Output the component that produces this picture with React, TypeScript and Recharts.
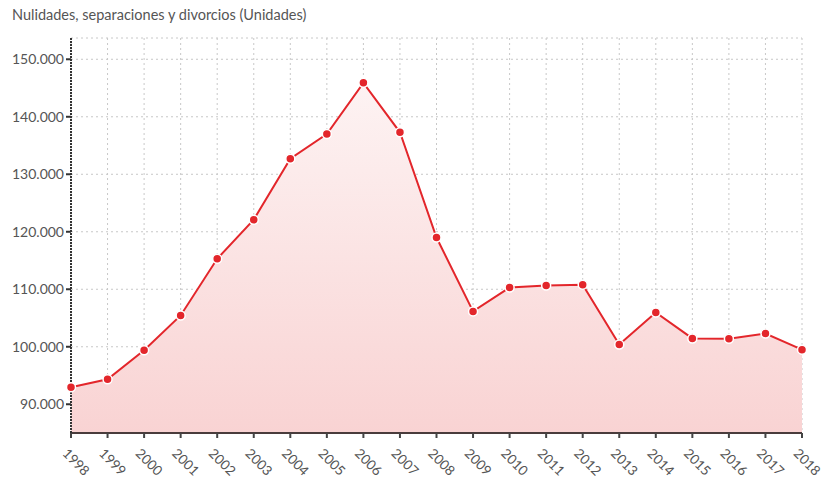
import { ComposedChart, Area, XAxis, YAxis, CartesianGrid } from 'recharts';

const years = [
  '1998', '1999', '2000', '2001', '2002', '2003', '2004', '2005', '2006', '2007', '2008',
  '2009', '2010', '2011', '2012', '2013', '2014', '2015', '2016', '2017', '2018',
];
const totals = [
  92950, 94340, 99400, 105450, 115300, 122100, 132700, 137000, 145900, 137300, 119000,
  106150, 110300, 110650, 110800, 100400, 105950, 101450, 101400, 102300, 99500,
];
const yTicks = [90000, 100000, 110000, 120000, 130000, 140000, 150000];

const data = years.map((year, i) => ({ year, value: totals[i] }));

const fmt = (v: number) => v.toLocaleString('de-DE');

const XTick = (props: any) => {
  const { x, y, payload } = props;
  const tx = x - 2;
  const ty = y + 7;
  return (
    <text
      x={tx}
      y={ty}
      transform={`rotate(45 ${tx} ${ty})`}
      textAnchor="start"
      dominantBaseline="hanging"
      fontSize={13.5}
      fill="#555"
      fontFamily="Lato, sans-serif"
    >
      {payload.value}
    </text>
  );
};

export default function App() {
  return (
    <div style={{ position: 'absolute', left: 0, top: 0, width: 825, height: 479, background: '#fff' }}>
      <div
        style={{
          position: 'absolute',
          left: 12,
          top: 6,
          fontFamily: 'Lato, sans-serif',
          fontSize: 14.5,
          color: '#555',
        }}
      >
        Nulidades, separaciones y divorcios (Unidades)
      </div>
      <ComposedChart
        width={825}
        height={479}
        data={data}
        margin={{ top: 38, right: 23, left: 0, bottom: 0 }}
      >
        <defs>
          <linearGradient id="fillRed" x1="0" y1="0" x2="0" y2="1">
            <stop offset="0%" stopColor="#fdf3f3" />
            <stop offset="100%" stopColor="#f9d3d3" />
          </linearGradient>
        </defs>
        <CartesianGrid stroke="#c8c8c8" strokeDasharray="2 3" />
        <XAxis
          dataKey="year"
          height={46}
          interval={0}
          tick={<XTick />}
          tickSize={5}
          tickLine={{ stroke: '#444', strokeWidth: 2 }}
          axisLine={{ stroke: '#4a3c3c', strokeWidth: 2 }}
          padding={{ left: 0, right: 0 }}
        />
        <YAxis
          width={71}
          domain={[85000, 153700]}
          ticks={yTicks}
          tickFormatter={fmt}
          tick={{ fontSize: 14, fill: '#555', fontFamily: 'Lato, sans-serif' }}
          tickSize={5}
          tickLine={{ stroke: '#333', strokeWidth: 2 }}
          axisLine={{ stroke: '#333', strokeWidth: 2, strokeDasharray: '2 1' }}
          allowDataOverflow
        />
        <Area
          type="linear"
          dataKey="value"
          stroke="#e3262b"
          strokeWidth={2}
          fill="url(#fillRed)"
          fillOpacity={1}
          dot={{ r: 4.5, fill: '#e3262b', stroke: '#fff', strokeWidth: 1.5 }}
          activeDot={false}
          isAnimationActive={false}
        />
      </ComposedChart>
    </div>
  );
}
